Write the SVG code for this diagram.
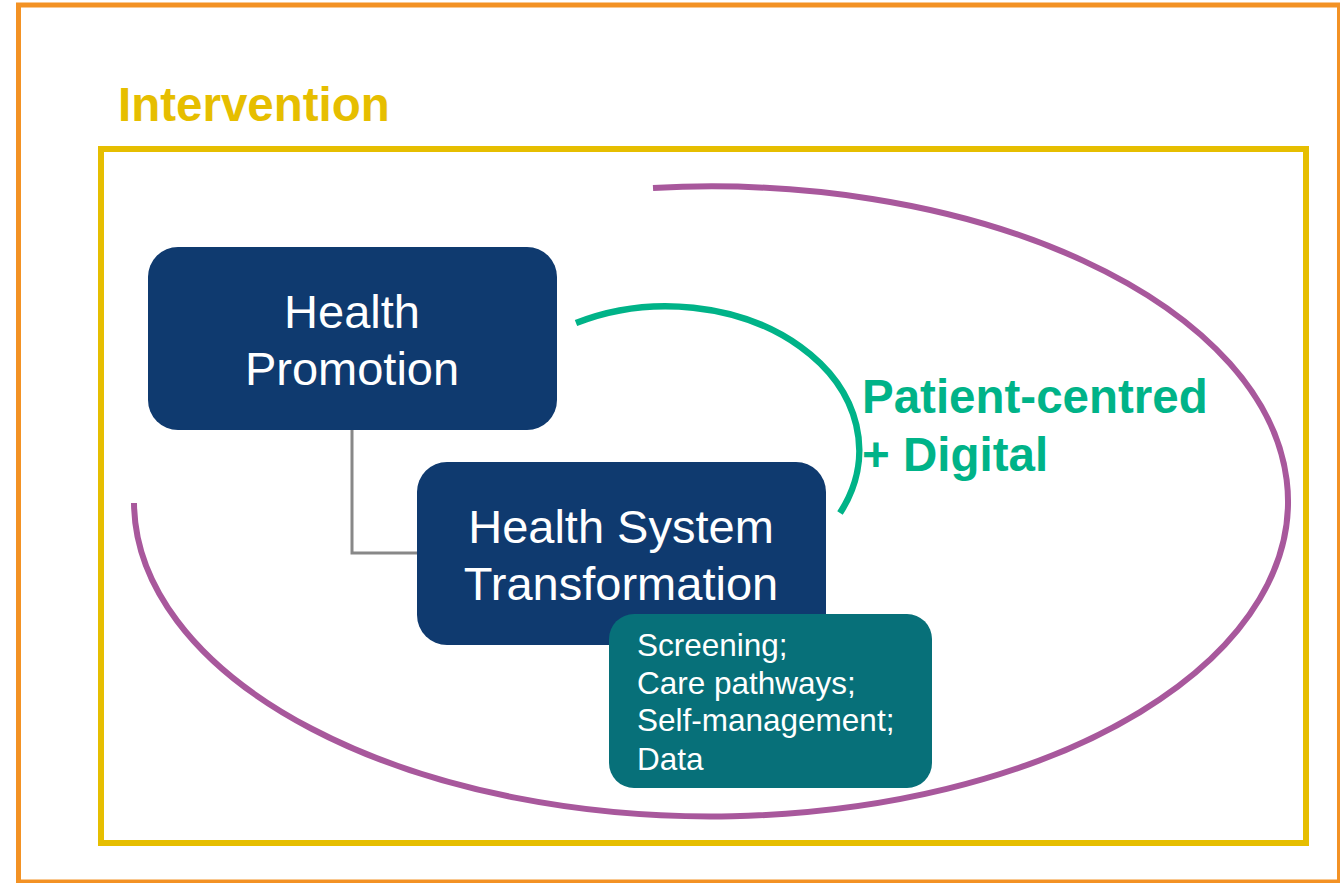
<svg xmlns="http://www.w3.org/2000/svg" width="1340" height="883" viewBox="0 0 1340 883">
  <style>
    .box { fill: #0F3A6F; }
    .boxtext { font-family: "Liberation Sans", Arial, sans-serif; font-size: 47px; fill: #FFFFFF; text-anchor: middle; }
    .small { font-family: "Liberation Sans", Arial, sans-serif; font-size: 31.5px; fill: #FFFFFF; }
    .bold { font-family: "Liberation Sans", Arial, sans-serif; font-weight: bold; }
  </style>
  <rect x="0" y="0" width="1340" height="883" fill="#FFFFFF"/>
  <g id="frame-outer">
    <rect x="18.5" y="5" width="1321" height="877" fill="none" stroke="#F39224" stroke-width="5"/>
  </g>
  <g id="intervention">
    <text x="118" y="121" class="bold" font-size="47.5" fill="#E6BE00">Intervention</text>
    <rect x="101" y="149" width="1205" height="694" fill="none" stroke="#E6BE00" stroke-width="6"/>
  </g>
  <g id="connectors">
    <path d="M653,188 A577,315 0 1 1 134,503" fill="none" stroke="#A8589C" stroke-width="6"/>
    <path d="M576,323 A193,144 0 0 1 840,513" fill="none" stroke="#00B388" stroke-width="6.5"/>
    <path d="M352,429 V553 H418" fill="none" stroke="#888888" stroke-width="3"/>
  </g>
  <g id="health-promotion">
    <rect x="148" y="247" width="409" height="183" rx="30" class="box"/>
    <text x="352" y="328" class="boxtext">Health</text>
    <text x="352" y="385" class="boxtext">Promotion</text>
  </g>
  <g id="health-system-transformation">
    <rect x="417" y="462" width="409" height="183" rx="30" class="box"/>
    <text x="621" y="543" class="boxtext">Health System</text>
    <text x="621" y="600" class="boxtext">Transformation</text>
  </g>
  <g id="details">
    <rect x="609" y="614" width="323" height="174" rx="25" fill="#077079"/>
    <text x="637" y="656" class="small">Screening;</text>
    <text x="637" y="694" class="small">Care pathways;</text>
    <text x="637" y="731" class="small">Self-management;</text>
    <text x="637" y="770" class="small">Data</text>
  </g>
  <g id="patient-centred">
    <text x="862" y="413" class="bold" font-size="47.5" fill="#00B388">Patient-centred</text>
    <text x="862" y="471" class="bold" font-size="47.5" fill="#00B388">+ Digital</text>
  </g>
</svg>
